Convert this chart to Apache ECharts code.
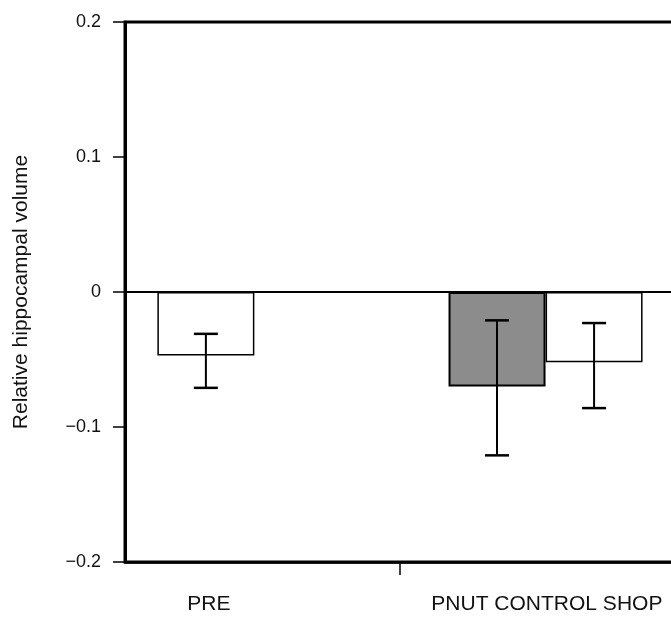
<!DOCTYPE html>
<html>
<head>
<meta charset="utf-8">
<script src="https://cdn.jsdelivr.net/npm/echarts@6/dist/echarts.min.js"></script>
<style>
  html, body { margin: 0; padding: 0; background: #fff; }
  #chart { width: 671px; height: 622px; }
</style>
</head>
<body>
<div id="chart"></div>
<script>
// groups and their values
const groups = ['PRE', 'PNUT', 'CONTROL']
const means = [-0.047, -0.070, -0.052]
const errLow = [-0.071, -0.121, -0.086]
const errHigh = [-0.031, -0.021, -0.023]
const yTicks = [-0.2, -0.1, 0, 0.1, 0.2]
const xLabels = ['PRE', 'PNUT CONTROL SHOP']

// layout: the x axis is split into narrow slots, bars sit on some of them
const SLOTS = 18
const SLOT_W = 32.35
const barSlot = { PRE: 2, PNUT: 11, CONTROL: 14 }
const labelSlot = [2, 12]
const tickSlot = 8
const fills = { PRE: '#ffffff', PNUT: '#8c8c8c', CONTROL: '#ffffff' }

const slots = []
for (let i = 0; i < SLOTS; i++) slots.push('s' + i)

const barData = slots.map(() => null)
const errData = []
groups.forEach((g, i) => {
  const s = barSlot[g]
  barData[s] = {
    value: means[i],
    itemStyle: { color: fills[g], borderColor: '#000', borderWidth: g === 'PNUT' ? 2 : 1.5 },
  }
  errData.push([s, errLow[i], errHigh[i]])
})

const FONT = 'Liberation Sans, Arial, sans-serif'

const chart = echarts.init(document.getElementById('chart'))
chart.setOption({
  animation: false,
  backgroundColor: '#fff',
  grid: {
    left: 125,
    top: 22,
    width: SLOT_W * SLOTS,
    height: 540,
    outerBoundsMode: 'none',
    containLabel: false,
    show: true,
    borderColor: '#000',
    borderWidth: 3,
    backgroundColor: 'transparent',
  },
  xAxis: {
    type: 'category',
    data: slots,
    boundaryGap: true,
    axisLine: { show: true, onZero: false, lineStyle: { color: '#000', width: 2.5 } },
    axisTick: {
      show: true,
      alignWithLabel: true,
      interval: i => i === tickSlot,
      length: 13,
      lineStyle: { color: '#000', width: 1.5 },
    },
    axisLabel: {
      interval: 0,
      margin: 32,
      fontFamily: FONT,
      fontSize: 21,
      color: '#111',
      formatter: (v, i) => {
        const k = labelSlot.indexOf(i)
        if (k < 0) return ''
        return k === 1 ? '{r|' + xLabels[k] + '}' : '{p|' + xLabels[k] + '}'
      },
      rich: {
        p: { fontFamily: FONT, fontSize: 21, color: '#111', padding: [0, 0, 0, 6] },
        r: { fontFamily: FONT, fontSize: 21, color: '#111', padding: [0, 0, 0, 35] },
      },
    },
    splitLine: { show: false },
  },
  yAxis: {
    type: 'value',
    min: yTicks[0],
    max: yTicks[yTicks.length - 1],
    interval: 0.1,
    name: 'Relative hippocampal volume',
    nameLocation: 'middle',
    nameGap: 93,
    nameTextStyle: { fontFamily: FONT, fontSize: 21, color: '#111' },
    axisLine: { show: true, lineStyle: { color: '#000', width: 3 } },
    axisTick: { show: true, inside: false, length: 12, lineStyle: { color: '#000', width: 1.5 } },
    axisLabel: {
      margin: 24,
      fontFamily: FONT,
      fontSize: 18,
      color: '#111',
      formatter: v => {
        const r = Math.round(v * 10) / 10
        if (r === 0) return '0'
        return (r < 0 ? '\u2212' : '') + Math.abs(r).toFixed(1)
      },
    },
    splitLine: { show: false },
  },
  series: [
    {
      type: 'bar',
      data: barData,
      barWidth: 97,
      z: 2,
      markLine: {
        silent: true,
        symbol: 'none',
        label: { show: false },
        lineStyle: { color: '#000', width: 2, type: 'solid' },
        data: [{ yAxis: 0 }],
      },
    },
    {
      type: 'custom',
      data: errData,
      z: 5,
      renderItem: (params, api) => {
        const x = api.value(0)
        const lo = api.coord([x, api.value(1)])
        const hi = api.coord([x, api.value(2)])
        const cap = 12
        return {
          type: 'group',
          children: [
            { type: 'line', shape: { x1: lo[0], y1: lo[1], x2: hi[0], y2: hi[1] }, style: { stroke: '#000', lineWidth: 2 } },
            { type: 'line', shape: { x1: lo[0] - cap, y1: lo[1], x2: lo[0] + cap, y2: lo[1] }, style: { stroke: '#000', lineWidth: 2.5 } },
            { type: 'line', shape: { x1: hi[0] - cap, y1: hi[1], x2: hi[0] + cap, y2: hi[1] }, style: { stroke: '#000', lineWidth: 2.5 } },
          ],
        }
      },
    },
  ],
})
</script>
</body>
</html>
